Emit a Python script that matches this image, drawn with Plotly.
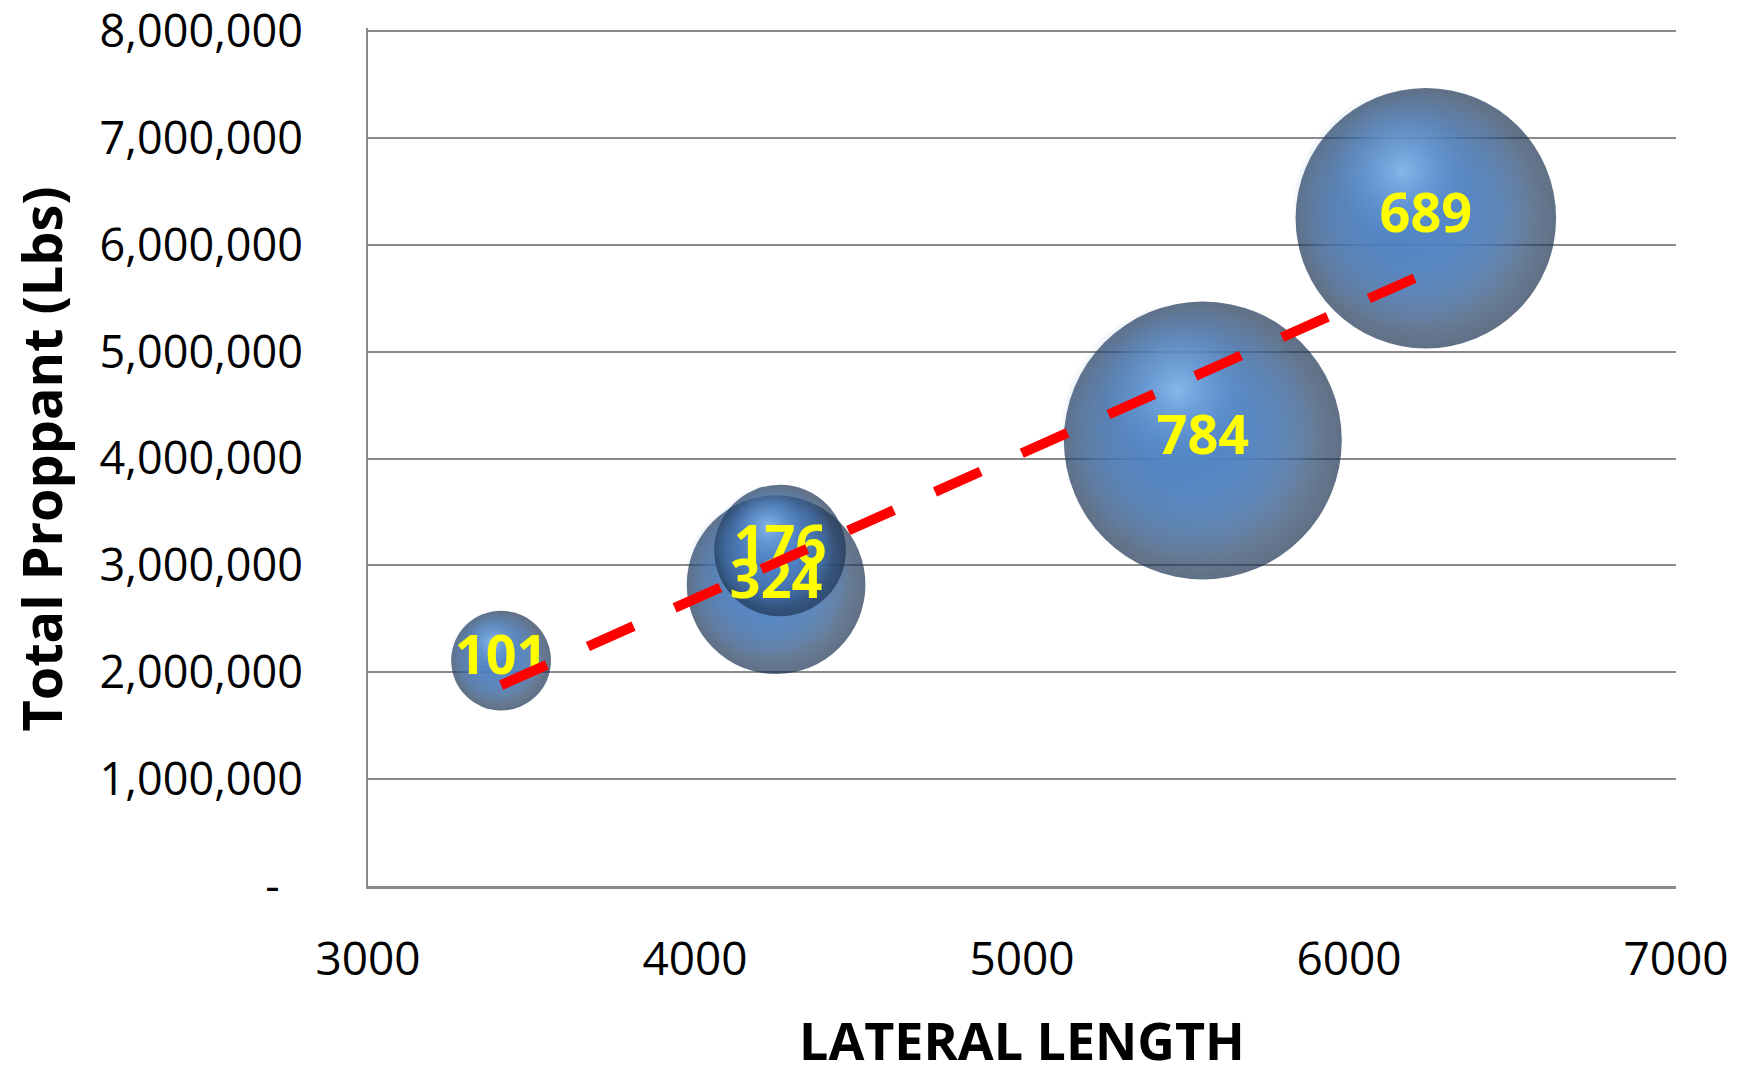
import numpy as np
import plotly.graph_objects as go

# Well data: lateral length (ft), total proppant (lbs) and bubble size value
lateral_length = [3407, 4248, 4260, 5553, 6235]
total_proppant = [2110000, 2820000, 3140000, 4170000, 6250000]
bubble_size = [101, 324, 176, 784, 689]

x_tick_vals = [3000, 4000, 5000, 6000, 7000]
x_tick_text = ["3000", "4000", "5000", "6000", "7000"]
y_tick_vals = [0, 1000000, 2000000, 3000000, 4000000, 5000000, 6000000, 7000000, 8000000]
y_tick_text = ["-\u00a0\u00a0", "1,000,000", "2,000,000", "3,000,000", "4,000,000",
               "5,000,000", "6,000,000", "7,000,000", "8,000,000"]

W, H = 1744, 1078
MARGIN = dict(l=368, r=68, t=28, b=192)
X_RANGE = [3000, 7000]
Y_RANGE = [0, 8030000]    # small headroom so the 8,000,000 gridline is kept
px_per_x = (W - MARGIN["l"] - MARGIN["r"]) / (X_RANGE[1] - X_RANGE[0])
px_per_y = (H - MARGIN["t"] - MARGIN["b"]) / (Y_RANGE[1] - Y_RANGE[0])

SIZEREF = 0.0203          # bubble area scaling
FONT = "Open Sans"
GRID = "#8a8a8a"


def radius_px(v):
    # plotly area sizing: radius = sqrt(v / 2 / sizeref)
    return np.sqrt(v / (2.0 * SIZEREF))


def sphere_layer(x, y, size, edge, center):
    return go.Scatter(
        x=[x], y=[y], mode="markers",
        marker=dict(size=[size], sizemode="area", sizeref=SIZEREF,
                    color=edge, gradient=dict(type="radial", color=center),
                    line=dict(width=0)),
        hoverinfo="skip", showlegend=False, cliponaxis=False,
    )


fig = go.Figure()

# shaded spheres, largest drawn first so smaller bubbles sit on top
for i in np.argsort(bubble_size)[::-1]:
    x, y, s = lateral_length[i], total_proppant[i], bubble_size[i]
    r = radius_px(s)
    # dark rim body
    fig.add_trace(sphere_layer(x, y, s, "#1c3352", "#4f86c6"))
    # broad mid-blue body, shifted up-left so the lower right stays shaded
    for _ in range(3):
        fig.add_trace(sphere_layer(x - 0.1 * r / px_per_x, y + 0.07 * r / px_per_y,
                                   s * 0.86, "rgba(78,130,196,0)", "rgba(78,130,196,1)"))
    # specular highlight toward the upper left
    fig.add_trace(sphere_layer(x - 0.18 * r / px_per_x, y + 0.36 * r / px_per_y,
                               s * 0.3, "rgba(100,155,220,0)", "rgba(160,210,255,0.95)"))

# value labels
fig.add_trace(go.Scatter(
    x=lateral_length, y=total_proppant, mode="text",
    text=[str(v) for v in bubble_size], textposition="middle center",
    textfont=dict(family=FONT, size=54, color="#FFFF00", weight="bold"),
    hoverinfo="skip", showlegend=False, cliponaxis=False,
))

# linear trendline
slope, intercept = np.polyfit(lateral_length, total_proppant, 1)
trend_x = np.array([min(lateral_length), max(lateral_length)])
fig.add_trace(go.Scatter(
    x=trend_x, y=slope * trend_x + intercept, mode="lines",
    line=dict(color="#FF0000", width=10, dash="50px,45px"),
    hoverinfo="skip", showlegend=False,
))

fig.update_layout(
    width=W, height=H, margin=MARGIN,
    paper_bgcolor="white", plot_bgcolor="white",
    font=dict(family=FONT, color="black"),
    xaxis=dict(range=X_RANGE, tickvals=x_tick_vals, ticktext=x_tick_text,
               showgrid=False, zeroline=False, showline=True,
               linecolor=GRID, linewidth=3, ticks="", automargin=False,
               ticklabelstandoff=31, ticklabeloverflow="allow",
               tickfont=dict(family=FONT, size=46, color="black")),
    yaxis=dict(range=Y_RANGE, tickvals=y_tick_vals, ticktext=y_tick_text,
               showgrid=True, gridcolor=GRID, gridwidth=2, automargin=False,
               zeroline=False, showline=True, linecolor=GRID, linewidth=2,
               ticks="", ticklabelstandoff=54, ticklabeloverflow="allow",
               tickfont=dict(family=FONT, size=45, color="black")),
    annotations=[
        dict(text="<b>Total Proppant (Lbs)</b>", xref="paper", yref="paper",
             x=-0.25, y=0.497, xanchor="center", yanchor="middle", textangle=-90,
             showarrow=False, font=dict(family=FONT, size=54, color="black")),
        dict(text="<b>LATERAL LENGTH</b>", xref="paper", yref="paper",
             x=0.5, y=-0.2222, xanchor="center", yanchor="bottom",
             showarrow=False, font=dict(family=FONT, size=52, color="black")),
    ],
)

fig.write_html("out.html")
